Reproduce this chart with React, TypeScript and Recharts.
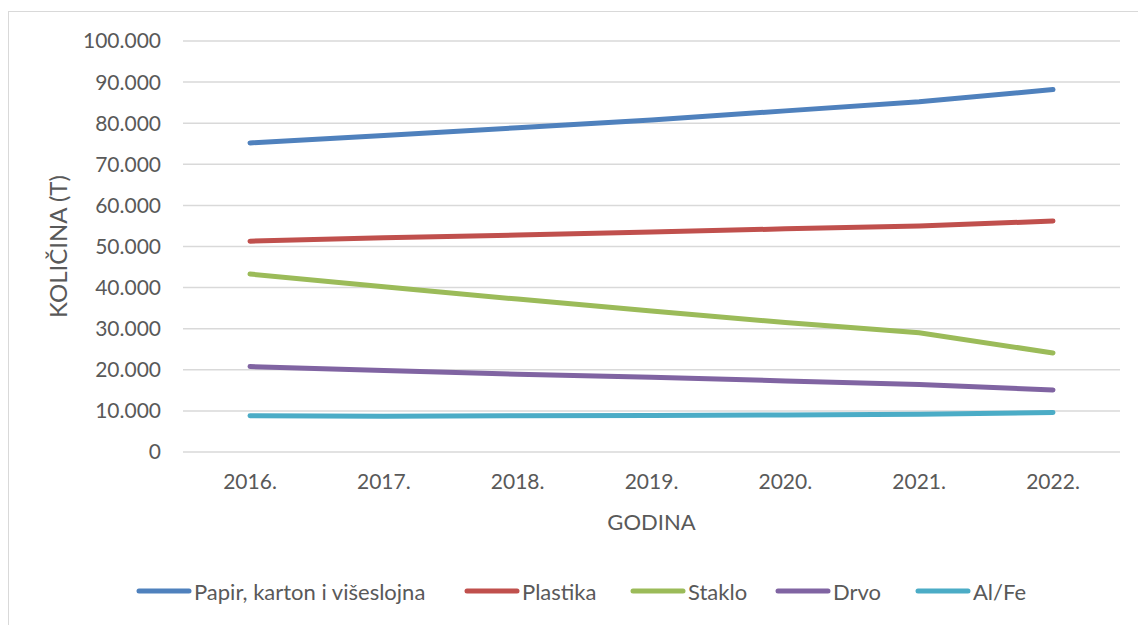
import React from 'react';
import { LineChart, Line, XAxis, YAxis, CartesianGrid, Legend } from 'recharts';

// values, in tonnes
const years = ['2016.', '2017.', '2018.', '2019.', '2020.', '2021.', '2022.'];
const papir = [75200, 77000, 78900, 80800, 83000, 85200, 88200];
const plastika = [51300, 52100, 52800, 53500, 54300, 55000, 56200];
const staklo = [43300, 40200, 37200, 34300, 31500, 29000, 24100];
const drvo = [20800, 19800, 18900, 18200, 17300, 16400, 15100];
const alfe = [8800, 8700, 8800, 8900, 9000, 9200, 9600];
const yTicks = [0, 10000, 20000, 30000, 40000, 50000, 60000, 70000, 80000, 90000, 100000];

const series = [
  { key: 'papir', name: 'Papir, karton i višeslojna', color: '#4F81BD', values: papir },
  { key: 'plastika', name: 'Plastika', color: '#C0504D', values: plastika },
  { key: 'staklo', name: 'Staklo', color: '#9BBB59', values: staklo },
  { key: 'drvo', name: 'Drvo', color: '#8064A2', values: drvo },
  { key: 'alfe', name: 'Al/Fe', color: '#4BACC6', values: alfe },
];

// legend item slots (swatch start to next swatch start)
const legendSlots = [328, 166, 145, 140, 120];

const data = years.map((year, i) => {
  const row: Record<string, string | number> = { year };
  series.forEach((s) => {
    row[s.key] = s.values[i];
  });
  return row;
});

const FONT = 'Lato, "Open Sans", sans-serif';
const TEXT = '#595959';

const fmt = (v: number) => String(v).replace(/\B(?=(\d{3})+(?!\d))/g, '.');

const LegendContent = () => (
  <div
    style={{
      display: 'flex',
      alignItems: 'center',
      height: 40,
      paddingLeft: 136,
      fontFamily: FONT,
      fontSize: 22,
      color: TEXT,
    }}
  >
    {series.map((s, i) => (
      <div key={s.key} style={{ display: 'flex', alignItems: 'center', width: legendSlots[i], whiteSpace: 'nowrap' }}>
        <svg width={56} height={8} style={{ marginRight: 2 }}>
          <line x1={3} y1={4} x2={53} y2={4} stroke={s.color} strokeWidth={5} strokeLinecap="round" />
        </svg>
        <span>{s.name}</span>
      </div>
    ))}
  </div>
);

export default function App() {
  return (
    <div
      style={{
        position: 'absolute',
        left: 0,
        top: 0,
        width: 1138,
        height: 625,
        background: '#fff',
        overflow: 'hidden',
      }}
    >
      <div
        style={{
          position: 'absolute',
          left: 8,
          top: 11,
          width: 1200,
          height: 700,
          borderLeft: '1.5px solid #D9D9D9',
          borderTop: '1.5px solid #D9D9D9',
        }}
      />
      <div style={{ position: 'absolute', left: 0, top: 0 }}>
        <LineChart width={1138} height={625} data={data} margin={{ top: 41, right: 18, bottom: 14, left: 0 }}>
          <CartesianGrid vertical={false} stroke="#D9D9D9" strokeWidth={1.5} />
          <XAxis
            dataKey="year"
            axisLine={false}
            tickLine={false}
            tickSize={0}
            tickMargin={22}
            height={119}
            padding={{ left: 67, right: 67 }}
            tick={{ fill: TEXT, fontSize: 21, fontFamily: FONT }}
            label={{
              value: 'GODINA',
              position: 'insideBottom',
              offset: 41,
              fill: TEXT,
              fontSize: 22,
              fontFamily: FONT,
            }}
          />
          <YAxis
            width={183}
            domain={[0, 100000]}
            ticks={yTicks}
            axisLine={false}
            tickLine={false}
            tickSize={0}
            tickMargin={22}
            tickFormatter={fmt}
            tick={{ fill: TEXT, fontSize: 21, fontFamily: FONT }}
            label={{
              value: 'KOLIČINA (T)',
              angle: -90,
              position: 'center',
              dx: -33,
              fill: TEXT,
              fontSize: 24,
              fontFamily: FONT,
            }}
          />
          <Legend verticalAlign="bottom" content={<LegendContent />} />
          {series.map((s) => (
            <Line
              key={s.key}
              type="linear"
              dataKey={s.key}
              name={s.name}
              stroke={s.color}
              strokeWidth={5}
              strokeLinecap="round"
              dot={false}
              activeDot={false}
              isAnimationActive={false}
            />
          ))}
        </LineChart>
      </div>
    </div>
  );
}
